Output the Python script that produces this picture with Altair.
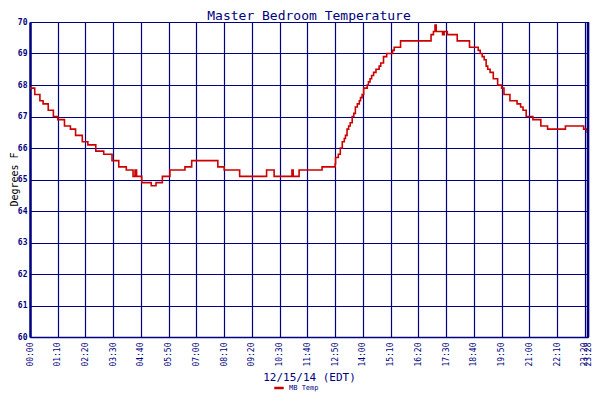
import altair as alt
import pandas as pd

# Step-change times (minutes after midnight) and the temperature from that time on
minutes = [0, 12, 25, 33, 46, 59, 70, 87, 102, 115, 132, 146, 166, 186, 207, 224, 243,
           260, 265, 269, 282, 306, 318, 334, 353, 391, 408, 474, 490, 529, 597, 616,
           661, 664, 679, 737, 770, 771, 778, 783, 788, 793, 796, 800, 804, 808, 813,
           817, 821, 826, 831, 834, 838, 842, 851, 854, 858, 862, 867, 873, 881, 885,
           892, 900, 915, 919, 935, 1012, 1018, 1022, 1025, 1041, 1045, 1053, 1078,
           1109, 1131, 1136, 1141, 1146, 1151, 1155, 1161, 1169, 1180, 1190, 1196,
           1211, 1229, 1238, 1244, 1252, 1269, 1289, 1306, 1351, 1397, 1406, 1408]
temps = [67.9, 67.7, 67.5, 67.4, 67.2, 67.0, 66.9, 66.7, 66.6, 66.4, 66.2, 66.1, 65.9,
         65.8, 65.6, 65.4, 65.3, 65.1, 65.3, 65.1, 64.9, 64.8, 64.9, 65.1, 65.3, 65.4,
         65.6, 65.4, 65.3, 65.1, 65.3, 65.1, 65.3, 65.1, 65.3, 65.4, 65.5, 65.7, 65.8,
         66.0, 66.2, 66.3, 66.4, 66.6, 66.7, 66.8, 67.0, 67.1, 67.3, 67.4, 67.5, 67.6,
         67.7, 67.9, 68.0, 68.1, 68.2, 68.3, 68.4, 68.5, 68.6, 68.7, 68.9, 69.0, 69.1,
         69.2, 69.4, 69.6, 69.7, 69.9, 69.7, 69.6, 69.7, 69.6, 69.4, 69.2, 69.1, 69.0,
         68.9, 68.8, 68.6, 68.5, 68.4, 68.2, 68.0, 67.9, 67.7, 67.5, 67.4, 67.3, 67.2,
         67.0, 66.9, 66.7, 66.6, 66.7, 66.6, 66.5, 66.5]
series_name = "MB Temp"
x_ticks = [0, 70, 140, 210, 280, 350, 420, 490, 560, 630, 700, 770, 840, 910, 980,
           1050, 1120, 1190, 1260, 1330, 1400, 1408]
y_ticks = [60, 61, 62, 63, 64, 65, 66, 67, 68, 69, 70]
end_minute = [1408]

navy = "#000080"
red = "#CC0000"
font = "DejaVu Sans Mono"

df = pd.DataFrame({"minute": minutes, "temp": temps, "series": series_name})

label_expr = ("(floor(datum.value/60) < 10 ? '0' : '') + floor(datum.value/60) + ':' + "
              "(datum.value % 60 < 10 ? '0' : '') + (datum.value % 60)")

x_enc = alt.X(
    "minute:Q",
    scale=alt.Scale(domain=[0, 1408], nice=False, zero=False),
    axis=alt.Axis(
        values=x_ticks, tickCount=40, labelExpr=label_expr, labelAngle=-90,
        labelAlign="right", labelBaseline="middle", labelFont=font, labelFontSize=8,
        labelColor=navy, labelPadding=5, labelOverlap=False, labelBound=False,
        labelFlush=False, ticks=False, grid=True, gridColor=navy,
        gridWidth=1.2, gridOpacity=1, domainColor=navy, domainWidth=1.5,
        title="12/15/14 (EDT)", titleFont=font, titleFontSize=11,
        titleFontWeight="normal", titleColor=navy, titlePadding=5,
    ),
)
y_enc = alt.Y(
    "temp:Q",
    scale=alt.Scale(domain=[60, 70], nice=False, zero=False),
    axis=alt.Axis(
        values=y_ticks, tickCount=20, format="d", labelFont=font, labelFontSize=8,
        labelFontWeight="bold", labelColor=navy, labelPadding=3, ticks=False,
        labelFlush=False, labelOverlap=False,
        grid=True, gridColor=navy, gridWidth=1.2, gridOpacity=1, domainColor=navy,
        domainWidth=2.5, title="Degrees F", titleFont=font, titleFontSize=10,
        titleFontWeight="normal", titleColor="#000000", titleAngle=-90,
        titleAlign="center", titleBaseline="middle", titleX=-16, titleY=157,
    ),
)

line = alt.Chart(df).mark_line(interpolate="step-after", strokeWidth=1.6).encode(
    x=x_enc,
    y=y_enc,
    color=alt.Color(
        "series:N",
        scale=alt.Scale(range=[red]),
        legend=alt.Legend(
            title=None, orient="none", legendX=243, legendY=360,
            symbolType="stroke", symbolStrokeWidth=2.5, symbolSize=90,
            labelFont=font, labelFontSize=7, labelColor=navy,
        ),
    ),
)

end_rule = alt.Chart(pd.DataFrame({"minute": end_minute})).mark_rule(
    color=navy, strokeWidth=2.5
).encode(x=alt.X("minute:Q"))

chart = alt.layer(line, end_rule).properties(
    width=558,
    height=315,
    padding={"left": 22, "top": 14, "right": 4, "bottom": 55},
    autosize=alt.AutoSizeParams(type="none"),
    title=alt.TitleParams(
        "Master Bedroom Temperature", font=font, fontSize=13,
        fontWeight="normal", color=navy, offset=4, dy=9,
    ),
).configure_view(stroke=None).configure(background="white")

chart.save("out.html", embed_options={"renderer": "svg", "actions": False})
